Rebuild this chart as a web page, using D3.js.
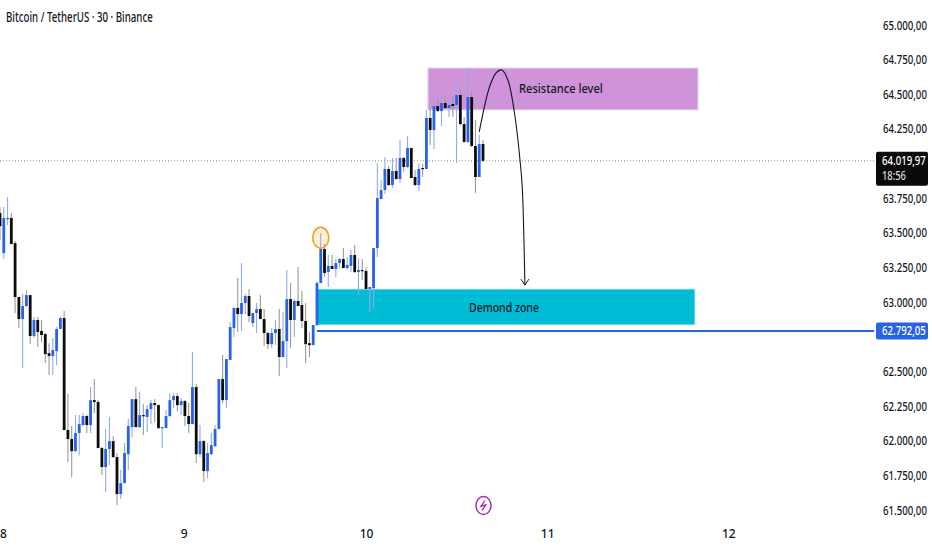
<!DOCTYPE html>
<html>
<head>
<meta charset="utf-8">
<script src="https://cdnjs.cloudflare.com/ajax/libs/d3/7.8.5/d3.min.js"></script>
<style>
  html, body { margin: 0; background: #fff; }
  svg { display: block; }
  text { font-family: "Noto Sans", "Open Sans", sans-serif; fill: #131722; font-weight: 500; }
</style>
</head>
<body>
<svg id="chart" width="932" height="550"></svg>
<script>
// BTC/USDT 30m candles (index 0 = left edge)
const opens = [
  63643,63354,63600,63607,63426,63037,62878,62972,63051,62756,62871,62792,62770,62632,62611,62647,62806,62885,62077,62012,
  61925,62055,62113,62178,62113,62293,62279,61947,61810,61940,61997,61882,61615,61694,61903,62098,62300,62098,62185,62171,
  62228,62272,62257,62091,62091,62178,62293,62322,62257,62286,62178,62120,62387,61903,61997,61781,61903,61961,62084,62445,
  62293,62582,62813,62958,62914,62994,63044,62849,62922,62950,62878,62777,62697,62777,62806,62604,62719,63022,62871,63008,
  62979,62864,62704,62690,62835,63138,63383,63217,63261,63239,63282,63311,63246,63261,63340,63217,63232,63225,63095,63102,
  63390,63744,63809,63961,63845,63946,63889,64040,63975,64112,63903,63845,63968,63961,64329,64242,64415,64379,64437,64401,
  64430,64423,64495,64285,64156,64480,64127,63903,64141
];
const highs = [
  63686,63686,63758,63643,63441,63037,63059,63087,63051,62893,62893,62871,62777,62704,62741,62821,62893,62936,62337,62106,
  62185,62185,62199,62185,62387,62445,62293,61954,62084,62171,62033,61911,61788,61983,62156,62300,62387,62351,62264,62257,
  62293,62300,62264,62098,62221,62344,62344,62344,62308,62293,62272,62640,62409,62113,62005,61983,62055,62113,62445,62618,
  62589,62856,62965,63174,63282,63059,63095,62922,62994,63051,62950,62784,62813,62871,62950,62929,63232,63138,63022,63254,
  63080,62994,62784,62835,63152,63499,63419,63340,63340,63311,63318,63390,63326,63376,63412,63318,63311,63254,63109,63390,
  64004,63881,64047,63982,64040,64040,64170,64047,64199,64112,63953,64004,63997,64387,64401,64415,64473,64509,64495,64480,
  64480,64603,64531,64336,64690,64516,64314,64206,64170
];
const lows = [
  63448,63311,63557,63419,62922,62813,62524,62965,62697,62741,62676,62712,62560,62474,62474,62546,62806,62077,61846,61737,
  61918,61896,62106,62055,62055,62199,61947,61752,61629,61824,61875,61535,61579,61694,61788,62026,62098,62091,62041,62062,
  62120,62134,62084,61947,62091,62171,62235,62214,62185,62106,62055,62120,61839,61882,61701,61730,61896,61954,62084,62272,
  62235,62582,62748,62784,62792,62914,62857,62821,62777,62878,62683,62661,62669,62690,62466,62604,62524,62669,62748,62972,
  62813,62560,62604,62690,62828,63138,63181,63109,63239,63181,63246,63246,63232,63217,63210,63051,63160,63087,62929,62958,
  63326,63744,63780,63838,63824,63881,63860,63939,63968,63896,63838,63802,63903,63961,64134,64105,64372,64271,64394,64336,
  64336,64004,64278,64148,64148,64120,63788,63903,64011
];
const closes = [
  63549,63607,63607,63419,63037,62878,62972,63051,62756,62871,62784,62763,62625,62611,62654,62806,62885,62077,62012,61925,
  62055,62120,62178,62113,62293,62279,61947,61810,61940,61997,61882,61615,61694,61911,62106,62300,62098,62185,62178,62228,
  62272,62257,62091,62098,62178,62293,62322,62257,62286,62178,62120,62387,61903,61997,61781,61911,61968,62084,62445,62293,
  62589,62820,62958,62914,62994,63044,62900,62922,62950,62878,62777,62697,62777,62806,62604,62719,63022,62871,63008,62972,
  62864,62697,62690,62835,63138,63383,63210,63261,63239,63282,63311,63246,63268,63340,63217,63232,63225,63095,63109,63390,
  63751,63809,63961,63845,63946,63889,64040,63975,64112,63896,63845,63961,63961,64329,64242,64415,64379,64437,64401,64423,
  64415,64495,64285,64156,64480,64127,63903,64141,64019.97
];

const priceTicks = [65000,64750,64500,64250,63750,63500,63250,63000,62500,62250,62000,61750,61500];
const dayTicks = [0.8, 48.7, 97, 145, 193];
const dayLabels = ["8", "9", "10", "11", "12"];

// drawing annotations on the chart, in candle index / price
const resistanceZone = { x0: 113.4, x1: 185, top: 64690, bottom: 64387, label: "Resistance level" };
const demandZone = { x0: 84, x1: 184.2, top: 63095, bottom: 62835, label: "Demond zone" };
const lastPrice = 64019.97;
const linePrice = 62792.05;
const curveIdx = [127, 129.9, 131.7, 133, 134.6, 136.5, 137.8, 138.4, 139.1];
const curvePrice = [64228, 64567, 64661, 64675, 64603, 64336, 64026, 63831, 63123];

const blue = "#2962e6", black = "#0c0c0c";

const svg = d3.select("#chart");
const x = d3.scaleLinear().domain([0, 128]).range([0, 483]);
const y = d3.scaleLinear().domain([65000, 61500]).range([25, 510]);
const fmt = d3.formatLocale({ decimal: ",", thousands: ".", grouping: [3], currency: ["", ""] }).format(",.2f");

// squeeze a label horizontally to the width it has in the picture
const fit = (sel, w) => sel.each(function() {
  const t = d3.select(this);
  const x0 = +t.attr("x") || 0;
  const k = w / this.getComputedTextLength();
  t.attr("transform", `translate(${x0},0) scale(${k},1) translate(${-x0},0)`);
});

// ── Zones ─────────────────────────────────────────────────────
function drawZone(z, fill, edge) {
  svg.append("rect")
    .attr("x", x(z.x0)).attr("y", y(z.top))
    .attr("width", x(z.x1) - x(z.x0)).attr("height", y(z.bottom) - y(z.top))
    .attr("fill", fill).attr("stroke", edge).attr("stroke-width", 1);
}
drawZone(resistanceZone, "#ce93d8", "#d9e2f5");
drawZone(demandZone, "#00bcd4", "#d5f1f5");

// ── Price lines ───────────────────────────────────────────────
svg.append("line")
  .attr("x1", 0).attr("x2", 874).attr("y1", y(lastPrice)).attr("y2", y(lastPrice))
  .attr("stroke", "#8a8a8a").attr("stroke-width", 1).attr("stroke-dasharray", "1 2");
svg.append("line")
  .attr("x1", x(84)).attr("x2", 874).attr("y1", y(linePrice)).attr("y2", y(linePrice))
  .attr("stroke", blue).attr("stroke-width", 2);

// ── Candles ───────────────────────────────────────────────────
const candles = opens.map((o, i) => ({ i, o, h: highs[i], l: lows[i], c: closes[i] }));
const isUp = d => d.c >= d.o;

svg.append("g").selectAll("line").data(candles).join("line")
  .attr("x1", d => x(d.i)).attr("x2", d => x(d.i))
  .attr("y1", d => y(d.h)).attr("y2", d => y(d.l))
  .attr("stroke", d => isUp(d) ? "#8fabee" : "#9a9a9a")
  .attr("stroke-width", 1.1);

svg.append("g").selectAll("rect").data(candles).join("rect")
  .attr("x", d => x(d.i) - 1.4).attr("width", 2.8)
  .attr("y", d => y(Math.max(d.o, d.c)))
  .attr("height", d => Math.max(1.2, Math.abs(y(d.o) - y(d.c))))
  .attr("fill", d => isUp(d) ? blue : black);

// ── Annotations ───────────────────────────────────────────────
svg.append("ellipse")
  .attr("cx", x(85)).attr("cy", y(63465)).attr("rx", 8).attr("ry", 10.5)
  .attr("fill", "#f7a428").attr("fill-opacity", 0.18)
  .attr("stroke", "#f39c1f").attr("stroke-width", 1.6);

const curve = d3.line().curve(d3.curveCatmullRom.alpha(0.5));
const curvePts = curveIdx.map((v, i) => [x(v), y(curvePrice[i])]);
svg.append("path").attr("d", curve(curvePts))
  .attr("fill", "none").attr("stroke", "#131722").attr("stroke-width", 1.1);

const tip = curvePts[curvePts.length - 1];
svg.append("path")
  .attr("d", `M${tip[0] - 4},${tip[1] - 6}L${tip[0]},${tip[1]}L${tip[0] + 4},${tip[1] - 6}`)
  .attr("fill", "none").attr("stroke", "#131722").attr("stroke-width", 1);

[[resistanceZone, 519, 84], [demandZone, 469, 70]].forEach(([z, left, w]) => {
  svg.append("text")
    .attr("x", left).attr("y", (y(z.top) + y(z.bottom)) / 2)
    .attr("dy", "0.35em")
    .attr("font-size", 13).text(z.label)
    .call(fit, w);
});

// ── Axes ──────────────────────────────────────────────────────
const yAxis = d3.axisRight(y).tickValues(priceTicks).tickFormat(fmt).tickSize(0).tickPadding(0);
svg.append("g").attr("transform", "translate(883,0)").call(yAxis)
  .call(g => g.select(".domain").remove())
  .call(g => g.selectAll("text").attr("font-size", 12.5).call(fit, 44));

const xAxis = d3.axisBottom(x).tickValues(dayTicks)
  .tickFormat((d, i) => dayLabels[i]).tickSize(0).tickPadding(0);
svg.append("g").attr("transform", "translate(0,529)").call(xAxis)
  .call(g => g.select(".domain").remove())
  .call(g => g.selectAll("text").attr("font-size", 12));

// ── Price tags ────────────────────────────────────────────────
svg.append("rect").attr("x", 876).attr("y", y(lastPrice) - 9).attr("width", 52).attr("height", 34)
  .attr("rx", 2).attr("fill", "#0a0a0a");
svg.append("text").attr("x", 882).attr("y", y(lastPrice)).attr("dy", "0.35em")
  .attr("font-size", 12).style("fill", "#fff").text(fmt(lastPrice)).call(fit, 44);
svg.append("text").attr("x", 882).attr("y", y(lastPrice) + 15).attr("dy", "0.35em")
  .attr("font-size", 12).style("fill", "#d8d8d8").text("18:56").call(fit, 24);

svg.append("rect").attr("x", 876).attr("y", y(linePrice) - 8.5).attr("width", 52).attr("height", 17)
  .attr("rx", 2).attr("fill", blue);
svg.append("text").attr("x", 882).attr("y", y(linePrice)).attr("dy", "0.35em")
  .attr("font-size", 12).style("fill", "#fff").text(fmt(linePrice)).call(fit, 44);

// ── Title and flash icon ──────────────────────────────────────
svg.append("text").attr("x", 6).attr("y", 22).attr("font-size", 13.5)
  .text("Bitcoin / TetherUS · 30 · Binance").call(fit, 147);

const flash = svg.append("g").attr("transform", "translate(483.5,505.5)");
flash.append("ellipse").attr("rx", 7.5).attr("ry", 9)
  .attr("fill", "#fff").attr("stroke", "#9c27b0").attr("stroke-width", 1.4);
flash.append("path").attr("d", "M1.5,-5L-2.5,0.8L2.2,-0.6L-1.5,5")
  .attr("fill", "none").attr("stroke", "#9c27b0").attr("stroke-width", 1.3);
</script>
</body>
</html>
